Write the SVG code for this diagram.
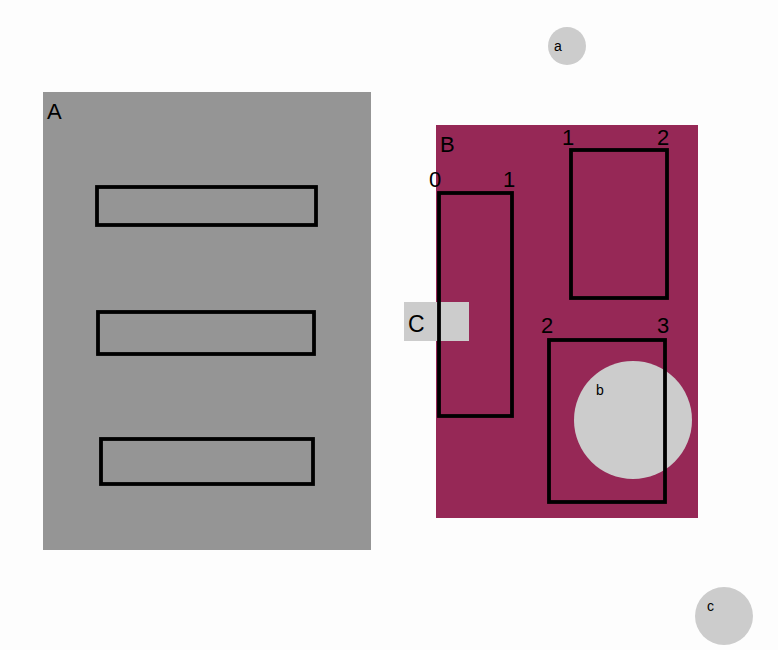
<svg xmlns="http://www.w3.org/2000/svg" width="778" height="650" viewBox="0 0 778 650">
<style>
.lbl{font-family:"Liberation Sans",Arial,sans-serif;font-size:22px;fill:#000}
.sm{font-family:"Liberation Sans",Arial,sans-serif;font-size:14px;fill:#000}
.box{fill:none;stroke:#000;stroke-width:3.8}
.lt{fill:#cccccc}
</style>
<rect width="778" height="650" fill="#fdfdfd"/>
<g id="A">
<rect x="43" y="92" width="328" height="458" fill="#959595"/>
<text class="lbl" x="47" y="119">A</text>
<rect class="box" x="97" y="187" width="219" height="38"/>
<rect class="box" x="98" y="312" width="216" height="42"/>
<rect class="box" x="101" y="439" width="212" height="45"/>
</g>
<g id="B">
<rect x="436" y="125" width="262" height="393" fill="#962856"/>
<text class="lbl" x="440" y="152">B</text>
</g>
<g id="C">
<rect class="lt" x="404" y="302" width="65" height="39"/>
<text class="lbl" x="408" y="332" style="font-size:23px">C</text>
</g>
<g id="B-parts">
<rect class="box" x="439" y="193" width="73" height="223"/>
<text class="lbl" x="429" y="187">0</text>
<text class="lbl" x="503" y="187">1</text>
<rect class="box" x="571" y="150" width="96" height="148"/>
<text class="lbl" x="562" y="145">1</text>
<text class="lbl" x="657" y="145">2</text>
<circle id="b" class="lt" cx="633" cy="420" r="59"/>
<rect class="box" x="549" y="340" width="116" height="162"/>
<text class="lbl" x="541" y="333">2</text>
<text class="lbl" x="657" y="333">3</text>
<text class="sm" x="596" y="395">b</text>
</g>
<g id="a">
<circle class="lt" cx="567" cy="46" r="19"/>
<text class="sm" x="554" y="51">a</text>
</g>
<g id="c">
<circle class="lt" cx="724" cy="616" r="29"/>
<text class="sm" x="707" y="611">c</text>
</g>
<g id="connectors"></g>
</svg>
